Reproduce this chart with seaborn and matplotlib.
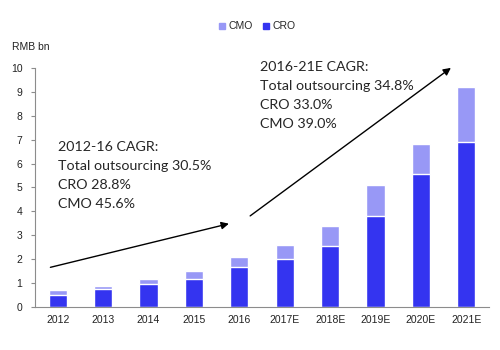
import matplotlib
matplotlib.use("Agg")
import matplotlib.pyplot as plt
from matplotlib.lines import Line2D
import seaborn as sns
import pandas as pd
import numpy as np

YEARS = ["2012", "2013", "2014", "2015", "2016", "2017E", "2018E", "2019E", "2020E", "2021E"]
CRO = [0.51, 0.77, 0.97, 1.17, 1.66, 2.01, 2.54, 3.82, 5.56, 6.89]
TOTAL = [0.72, 0.89, 1.18, 1.52, 2.10, 2.59, 3.39, 5.09, 6.82, 9.19]

CRO_COLOR = "#3434F0"
CMO_COLOR = "#9898F6"

df = pd.DataFrame({"year": YEARS, "cro": CRO, "total": TOTAL})

sns.set_style("white")
plt.rcParams["font.family"] = ["Liberation Sans", "DejaVu Sans"]

fig = plt.figure(figsize=(5, 3.5), dpi=100)
ax = fig.add_axes([0.07, 0.123, 0.908, 0.683])

# stacked: total (CMO on top) drawn first, CRO over it
sns.barplot(data=df, x="year", y="total", color=CMO_COLOR, width=0.4, saturation=1, ax=ax)
sns.barplot(data=df, x="year", y="cro", color=CRO_COLOR, width=0.4, saturation=1, ax=ax)

ax.set_xlim(-0.5, 9.5)
ax.set_ylim(0, 10)
ax.set_yticks(range(0, 11))
ax.set_xlabel("")
ax.set_ylabel("")

for s in ["top", "right"]:
    ax.spines[s].set_visible(False)
for s in ["left", "bottom"]:
    ax.spines[s].set_color("#8c8c8c")
    ax.spines[s].set_linewidth(0.8)

ax.set_xticks(np.arange(-0.5, 10, 1), minor=True)
ax.tick_params(axis="x", which="major", length=0, labelsize=7.5, pad=6, colors="#222222")
ax.tick_params(axis="x", which="minor", length=3.5, color="#8c8c8c", width=0.8)
ax.tick_params(axis="y", which="major", length=3, color="#8c8c8c", width=0.8, labelsize=7.5, pad=6, labelcolor="#222222")
ax.tick_params(left=True, bottom=True)

fig.text(0.024, 0.866, "RMB bn", fontsize=7.5, color="#222222", va="center")

# CAGR arrows
ax.annotate("", xy=(3.83, 3.51), xytext=(-0.22, 1.63),
            arrowprops=dict(arrowstyle="-|>", color="black", lw=1.0, mutation_scale=11),
            annotation_clip=False)
ax.annotate("", xy=(8.71, 10.07), xytext=(4.19, 3.74),
            arrowprops=dict(arrowstyle="-|>", color="black", lw=1.0, mutation_scale=11),
            annotation_clip=False)

txt_font = ["Lato", "DejaVu Sans"]
ax.text(0.0, 6.95, "2012-16 CAGR:\nTotal outsourcing 30.5%\nCRO 28.8%\nCMO 45.6%",
        fontsize=10.3, family=txt_font, va="top", ha="left", linespacing=1.7, clip_on=False)
ax.text(4.46, 10.3, "2016-21E CAGR:\nTotal outsourcing 34.8%\nCRO 33.0%\nCMO 39.0%",
        fontsize=10.3, family=txt_font, va="top", ha="left", linespacing=1.7, clip_on=False)

handles = [
    Line2D([], [], marker="s", linestyle="", color=CMO_COLOR, markersize=4, label="CMO"),
    Line2D([], [], marker="s", linestyle="", color=CRO_COLOR, markersize=4, label="CRO"),
]
fig.legend(handles=handles, loc="center", bbox_to_anchor=(0.512, 0.925), ncol=2, frameon=False,
           fontsize=7.5, handletextpad=0.1, columnspacing=0.8, handlelength=1.0)

fig.savefig("out.png", dpi=100)
